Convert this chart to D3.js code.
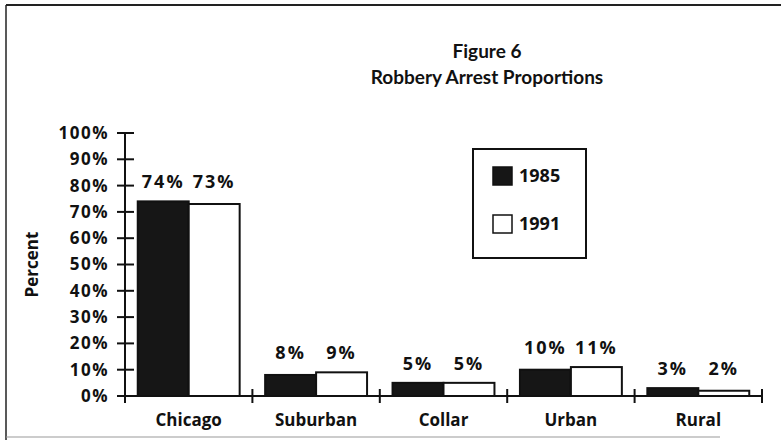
<!DOCTYPE html>
<html>
<head>
<meta charset="utf-8">
<script src="https://cdn.jsdelivr.net/npm/d3@7"></script>
<style>
  body { margin: 0; background: #fff; }
  text { font-family: "Open Sans", Lato, sans-serif; font-weight: 700; fill: #111; }
  .title { font-family: Lato, "Open Sans", sans-serif; }
</style>
</head>
<body>
<div id="chart"></div>
<script>
var categories = ["Chicago", "Suburban", "Collar", "Urban", "Rural"];
var years = ["1985", "1991"];
var values1985 = [74, 8, 5, 10, 3];
var values1991 = [73, 9, 5, 11, 2];
var yTicks = [0, 10, 20, 30, 40, 50, 60, 70, 80, 90, 100];

var width = 781, height = 445;
var xLeft = 125, xRight = 762, yTop = 133, yBottom = 396;

var svg = d3.select("#chart").append("svg")
  .attr("width", width)
  .attr("height", height);

// frame
svg.append("line").attr("x1", 6).attr("x2", 781).attr("y1", 5).attr("y2", 5)
  .attr("stroke", "#222").attr("stroke-width", 2);
svg.append("line").attr("x1", 6).attr("x2", 6).attr("y1", 5).attr("y2", 440)
  .attr("stroke", "#222").attr("stroke-width", 1.5);
svg.append("line").attr("x1", 6).attr("x2", 720).attr("y1", 437).attr("y2", 437)
  .attr("stroke", "#999").attr("stroke-width", 1);

// title
svg.append("text").attr("class", "title").attr("x", 487).attr("y", 58).attr("text-anchor", "middle")
  .style("font-size", "19px").text("Figure 6");
svg.append("text").attr("class", "title").attr("x", 487).attr("y", 84).attr("text-anchor", "middle")
  .style("font-size", "19px").text("Robbery Arrest Proportions");

var x = d3.scaleBand().domain(categories).range([xLeft, xRight]).paddingInner(0).paddingOuter(0);
var xIn = d3.scaleBand().domain(years).range([0, x.bandwidth()]).paddingOuter(0.25).paddingInner(0);
var y = d3.scaleLinear().domain([0, 100]).range([yBottom, yTop]);

var data = categories.map(function(c, i) {
  return { cat: c, vals: [{ year: "1985", v: values1985[i] }, { year: "1991", v: values1991[i] }] };
});

// bars
var groups = svg.selectAll("g.cat").data(data).enter().append("g")
  .attr("class", "cat")
  .attr("transform", function(d) { return "translate(" + x(d.cat) + ",0)"; });

groups.selectAll("rect").data(function(d) { return d.vals; }).enter().append("rect")
  .attr("x", function(d) { return xIn(d.year); })
  .attr("y", function(d) { return y(d.v); })
  .attr("width", xIn.bandwidth())
  .attr("height", function(d) { return yBottom - y(d.v); })
  .attr("fill", function(d) { return d.year == "1985" ? "#161616" : "#fff"; })
  .attr("stroke", "#111")
  .attr("stroke-width", 2);

// value labels, same height within a category
groups.selectAll("text.val").data(function(d) {
    var m = d3.max(d.vals, function(e) { return e.v; });
    return d.vals.map(function(e) { return { year: e.year, v: e.v, m: m }; });
  }).enter().append("text")
  .attr("class", "val")
  .attr("x", function(d) { return xIn(d.year) + xIn.bandwidth() / 2; })
  .attr("y", function(d) { return y(d.m) - 13; })
  .attr("text-anchor", "middle")
  .style("font-size", "18px")
  .style("letter-spacing", "2px")
  .text(function(d) { return d.v + "%"; });

// y axis
svg.append("line").attr("x1", xLeft).attr("x2", xLeft).attr("y1", yTop).attr("y2", yBottom + 7)
  .attr("stroke", "#111").attr("stroke-width", 2);
svg.selectAll("line.ytick").data(yTicks).enter().append("line")
  .attr("class", "ytick")
  .attr("x1", xLeft - 8).attr("x2", xLeft + 9)
  .attr("y1", function(d) { return y(d); }).attr("y2", function(d) { return y(d); })
  .attr("stroke", "#111").attr("stroke-width", 2);
svg.selectAll("text.ylab").data(yTicks).enter().append("text")
  .attr("class", "ylab")
  .attr("x", xLeft - 16)
  .attr("y", function(d) { return y(d); })
  .attr("dy", "0.35em")
  .attr("text-anchor", "end")
  .style("font-size", "17px")
  .style("letter-spacing", "1.5px")
  .text(function(d) { return d + "%"; });

svg.append("text")
  .attr("transform", "translate(38," + ((yTop + yBottom) / 2) + ") rotate(-90)")
  .attr("text-anchor", "middle")
  .style("font-size", "17px")
  .text("Percent");

// x axis
svg.append("line").attr("x1", xLeft - 8).attr("x2", xRight).attr("y1", yBottom).attr("y2", yBottom)
  .attr("stroke", "#111").attr("stroke-width", 2);
var edges = categories.map(function(c) { return x(c); }).concat([xRight]);
svg.selectAll("line.xtick").data(edges.slice(1)).enter().append("line")
  .attr("class", "xtick")
  .attr("x1", function(d) { return d; }).attr("x2", function(d) { return d; })
  .attr("y1", yBottom - 7).attr("y2", yBottom + 7)
  .attr("stroke", "#111").attr("stroke-width", 2);
svg.selectAll("text.xlab").data(categories).enter().append("text")
  .attr("class", "xlab")
  .attr("x", function(d) { return x(d) + x.bandwidth() / 2; })
  .attr("y", 426)
  .attr("text-anchor", "middle")
  .style("font-size", "17px")
  .text(function(d) { return d; });

// legend
var lg = svg.append("g").attr("transform", "translate(473,149)");
lg.append("rect").attr("width", 113).attr("height", 109)
  .attr("fill", "#fff").attr("stroke", "#111").attr("stroke-width", 2);
lg.selectAll("rect.sw").data(years).enter().append("rect")
  .attr("class", "sw")
  .attr("x", 20).attr("y", function(d, i) { return 18 + i * 48; })
  .attr("width", 19).attr("height", 18)
  .attr("fill", function(d) { return d == "1985" ? "#161616" : "#fff"; })
  .attr("stroke", "#111").attr("stroke-width", 1.5);
lg.selectAll("text.lt").data(years).enter().append("text")
  .attr("class", "lt")
  .attr("x", 46).attr("y", function(d, i) { return 27 + i * 48; })
  .attr("dy", "0.35em")
  .style("font-size", "18px")
  .text(function(d) { return d; });
</script>
</body>
</html>
